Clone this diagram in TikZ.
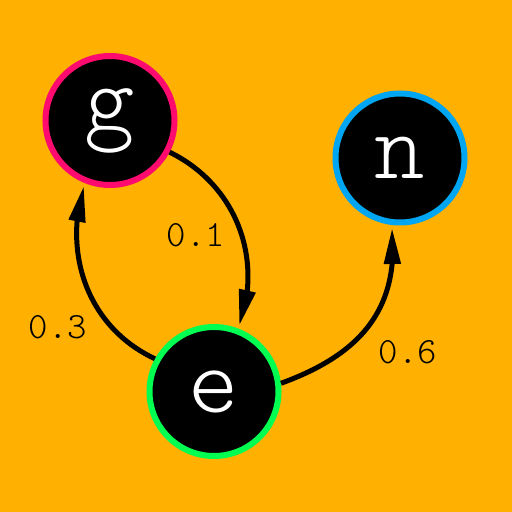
\documentclass[tikz,border=0pt]{standalone}
\usepackage{fontspec}
\usetikzlibrary{arrows.meta,bending}

\newfontfamily\lightmono{lmmonolt10-regular.otf}

\definecolor{bgorange}{HTML}{FFB000}
\definecolor{ringpink}{HTML}{FF0A6E}
\definecolor{ringblue}{HTML}{00A6F2}
\definecolor{ringgreen}{HTML}{00FF50}

\tikzset{
	state/.style={circle, draw, line width=6pt, fill=black, text=white, minimum size=129pt, inner sep=0pt, font=\lightmono\fontsize{96}{100}\selectfont},
	prob/.style={text=black, inner sep=0pt, font=\lightmono\fontsize{37}{40}\selectfont},
	trans/.style={line width=5pt, -{Triangle[length=36pt,width=16pt,flex]}, shorten >=3pt}
}

\begin{document}
\begin{tikzpicture}[x=1pt, y=1pt]
		\fill[bgorange] (0,0) rectangle (512,512);
		\useasboundingbox (0,0) rectangle (512,512);
		
		\node[state, draw=ringpink] (G) at (110,391.5) {g};
		\node[state, draw=ringblue] (N) at (400,354) {n};
		\node[state, draw=ringgreen] (E) at (214,120.5) {e};
		
		\draw[trans] (G.-28) to[out=-26, in=69] (E.69);
		\draw[trans] (E.151) to[out=155, in=-108] (G.-112);
		\draw[trans, looseness=1.12] (E.7) to[out=20, in=-84] (N.-97);
		
		\node[prob] (P1) at (196,277) {0.1};
		\node[prob] (P3) at (58,185) {0.3};
		\node[prob] (P6) at (408,160) {0.6};
	\end{tikzpicture}
\end{document}
